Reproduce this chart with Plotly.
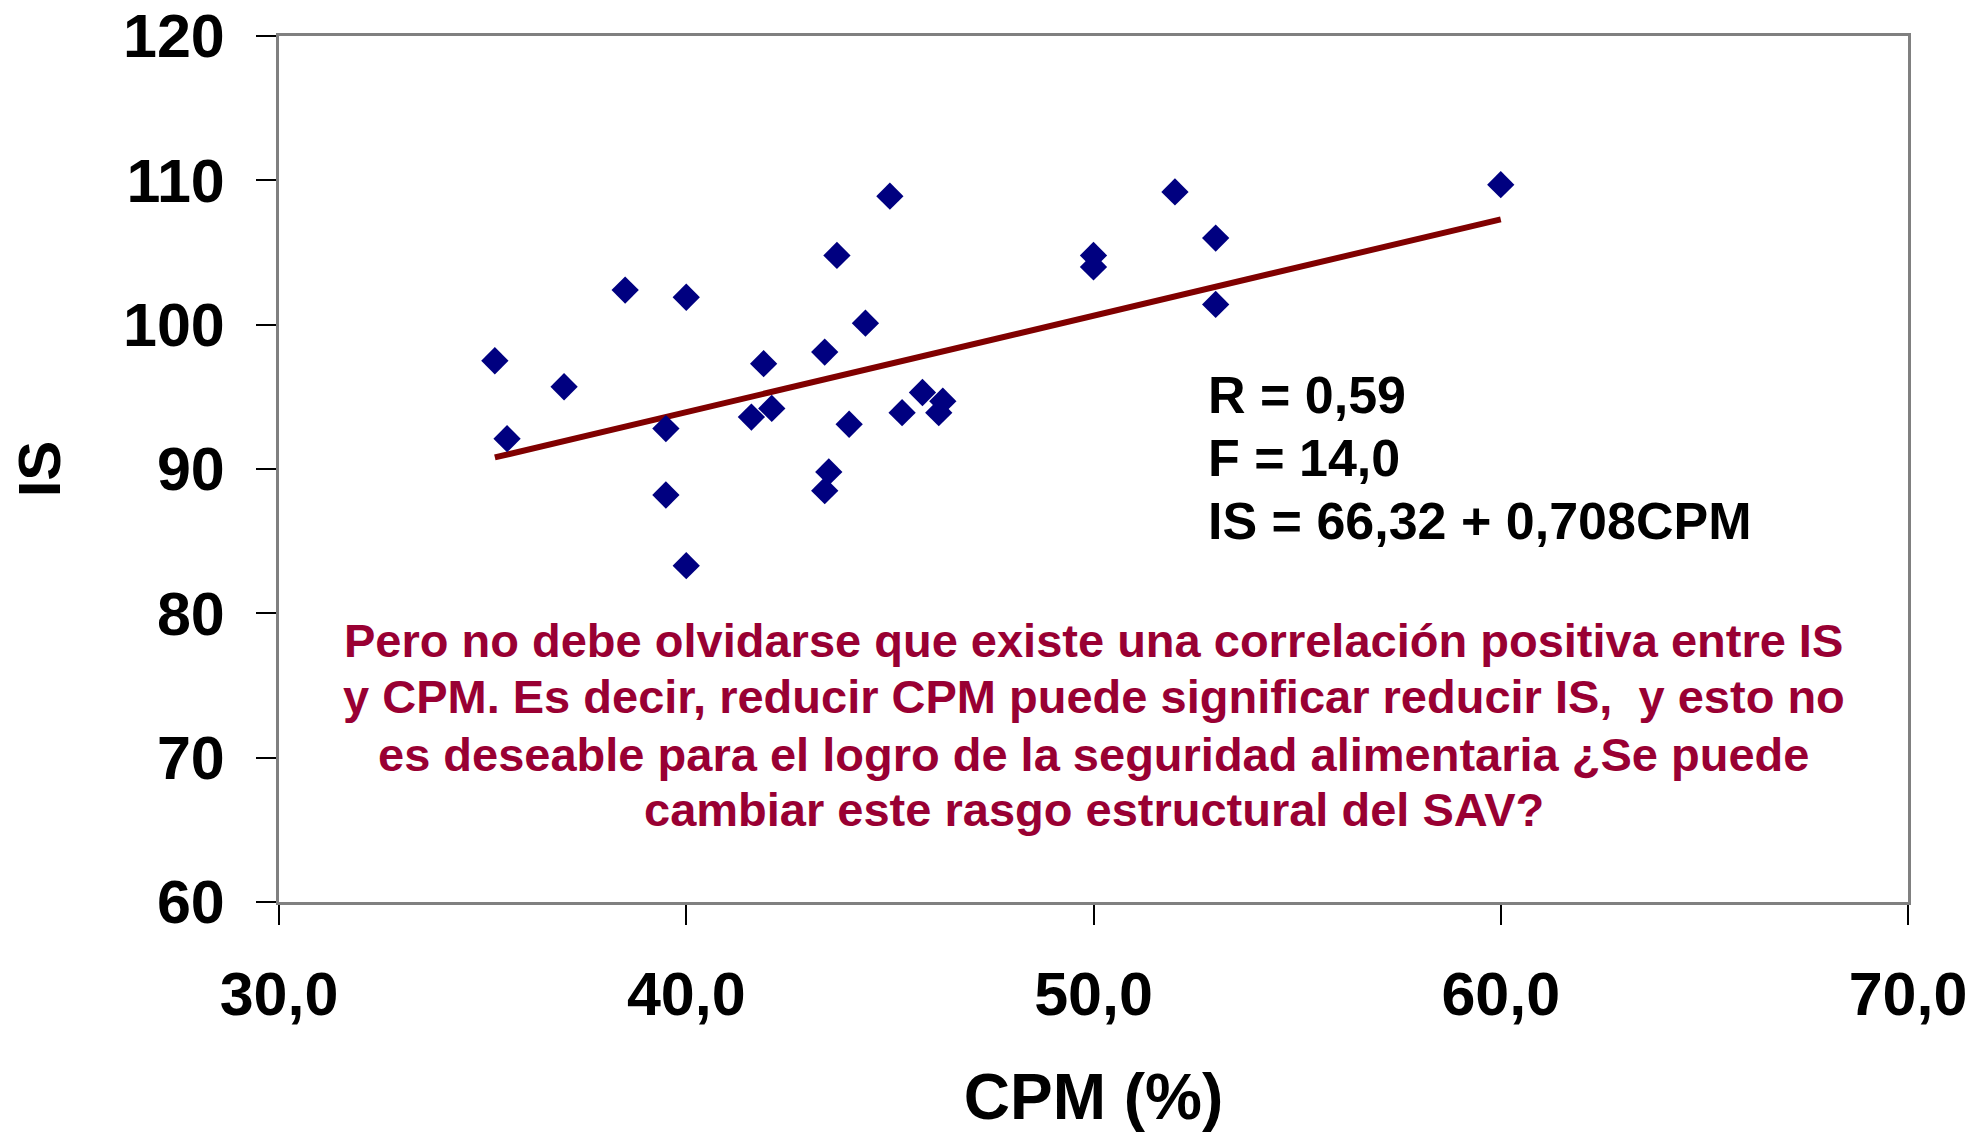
import plotly.graph_objects as go

# CPM (%) vs IS
cpm = [35.3, 35.6, 37.0, 38.5, 39.5, 39.5, 40.0, 40.0, 41.6, 41.9,
       42.1, 43.4, 43.4, 43.5, 43.7, 44.0, 44.4, 45.0, 45.3, 45.8,
       46.2, 46.3, 50.0, 50.0, 52.0, 53.0, 53.0, 60.0]
is_vals = [97.5, 92.1, 95.7, 102.4, 92.8, 88.2, 101.9, 83.3, 93.6, 97.3,
           94.2, 98.1, 88.5, 89.8, 104.8, 93.1, 100.1, 108.9, 93.9, 95.3,
           93.9, 94.7, 104.8, 104.0, 109.2, 106.0, 101.4, 109.7]

# trend line as drawn (end points)
trend_x = [35.3, 60.0]
trend_y = [90.8, 107.3]

x_ticks = [30, 40, 50, 60, 70]
x_labels = ["30,0", "40,0", "50,0", "60,0", "70,0"]
y_ticks = [60, 70, 80, 90, 100, 110, 120]
y_labels = ["60", "70", "80", "90", "100", "110", "120"]

stats_lines = ["R = 0,59", "F = 14,0", "IS = 66,32 + 0,708CPM"]
note_lines = [
    "Pero no debe olvidarse que existe una correlación positiva entre IS",
    "y CPM. Es decir, reducir CPM puede significar reducir IS,  y esto no",
    "es deseable para el logro de la seguridad alimentaria ¿Se puede",
    "cambiar este rasgo estructural del SAV?",
]

FONT = "Liberation Sans, Arial, sans-serif"

fig = go.Figure()
fig.add_scatter(x=trend_x, y=trend_y, mode="lines",
                line=dict(color="#800000", width=6), hoverinfo="skip")
fig.add_scatter(x=cpm, y=is_vals, mode="markers",
                marker=dict(symbol="diamond", size=21, color="#000080"))

axis_common = dict(
    ticks="outside", ticklen=20, tickwidth=1.5, tickcolor="black",
    showline=True, linecolor="#808080", linewidth=3, mirror=True,
    showgrid=False, zeroline=False, automargin=False,
    tickfont=dict(family=FONT, size=61, color="black", weight="bold"),
)

fig.update_xaxes(range=[30, 70], tickvals=x_ticks, ticktext=x_labels,
                 ticklabelstandoff=17,
                 title=dict(text="CPM (%)", standoff=53,
                            font=dict(family=FONT, size=64, color="black", weight="bold")),
                 **axis_common)
fig.update_yaxes(range=[60, 120], tickvals=y_ticks, ticktext=y_labels,
                 ticklabelstandoff=19,
                 title=dict(text="IS", standoff=44,
                            font=dict(family=FONT, size=60, color="black", weight="bold")),
                 **axis_common)

# regression stats, left aligned
for txt, yy in zip(stats_lines, [0.586, 0.513, 0.440]):
    fig.add_annotation(text=txt, xref="paper", yref="paper", x=0.569, y=yy,
                       xanchor="left", yanchor="middle", showarrow=False,
                       font=dict(family=FONT, size=52, color="black", weight="bold"))

# comment text, centred in the plot
for txt, yy in zip(note_lines, [0.302, 0.237, 0.170, 0.107]):
    fig.add_annotation(text=txt, xref="paper", yref="paper", x=0.5, y=yy,
                       xanchor="center", yanchor="middle", showarrow=False,
                       font=dict(family=FONT, size=47, color="#990033", weight="bold"))

fig.update_layout(
    width=1976, height=1133,
    margin=dict(l=279, r=68, t=36, b=231),
    plot_bgcolor="white", paper_bgcolor="white",
    showlegend=False,
)

fig.write_html("out.html", config={"displayModeBar": False},
               post_script="document.body.style.margin='0';")
